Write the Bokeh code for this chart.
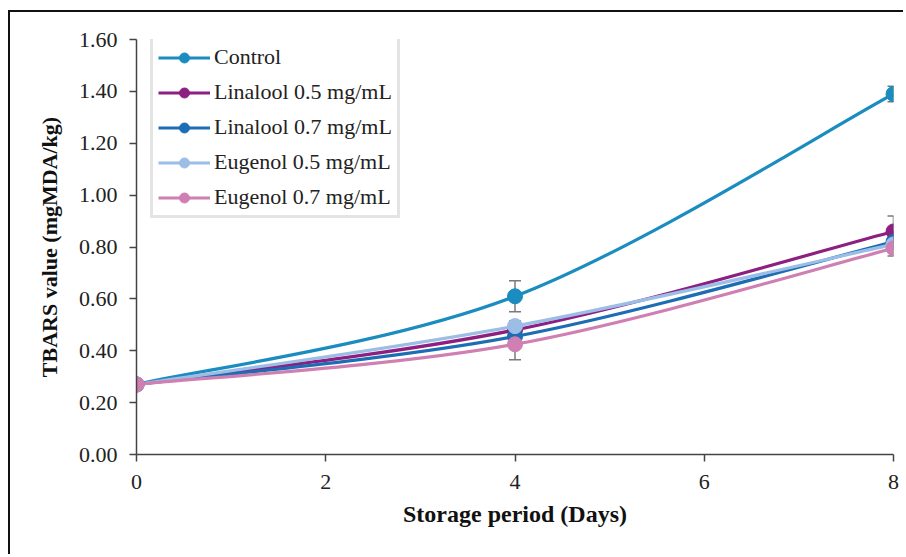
from bokeh.plotting import figure
from bokeh.models import Whisker, ColumnDataSource, NumeralTickFormatter, FixedTicker, Legend, LegendItem, TeeHead, Range1d
from bokeh.embed import file_html
from bokeh.resources import INLINE

days = [0, 4, 8]
series_names = ["Control", "Linalool 0.5 mg/mL", "Linalool 0.7 mg/mL", "Eugenol 0.5 mg/mL", "Eugenol 0.7 mg/mL"]
control = [0.27, 0.61, 1.39]
linalool_05 = [0.27, 0.48, 0.86]
linalool_07 = [0.27, 0.455, 0.82]
eugenol_05 = [0.27, 0.495, 0.81]
eugenol_07 = [0.27, 0.425, 0.795]
control_err = [0.0, 0.06, 0.03]
linalool_05_err = [0.0, 0.02, 0.06]
linalool_07_err = [0.0, 0.02, 0.02]
eugenol_05_err = [0.0, 0.02, 0.02]
eugenol_07_err = [0.0, 0.06, 0.03]
x_ticks = [0, 2, 4, 6, 8]
y_ticks = [0.0, 0.2, 0.4, 0.6, 0.8, 1.0, 1.2, 1.4, 1.6]

values = [control, linalool_05, linalool_07, eugenol_05, eugenol_07]
errors = [control_err, linalool_05_err, linalool_07_err, eugenol_05_err, eugenol_07_err]
colors = ["#1a8cc0", "#8c1f80", "#1c6db4", "#9bbde6", "#cf7fb1"]

FONT = "Liberation Serif"

p = figure(width=895, height=544, output_backend="svg", toolbar_location=None,
           x_range=Range1d(0, 8), y_range=Range1d(0, 1.6),
           min_border_left=126, min_border_right=12, min_border_top=27, min_border_bottom=102)
p.outline_line_color = None
p.xgrid.visible = False
p.ygrid.visible = False
p.styles = {"border-left": "2px solid #111", "border-top": "2px solid #111",
            "margin-left": "8px", "margin-top": "10px"}

for ax in (p.xaxis[0], p.yaxis[0]):
    ax.axis_line_color = "#444"
    ax.axis_line_width = 1.5
    ax.major_tick_line_color = "#444"
    ax.major_tick_line_width = 1.5
    ax.major_tick_out = 7
    ax.major_tick_in = 0
    ax.minor_tick_line_color = None
    ax.major_label_text_font = FONT
    ax.major_label_text_font_size = "22px"
    ax.major_label_text_color = "#222"
    ax.axis_label_text_font = FONT
    ax.axis_label_text_font_style = "bold"
    ax.axis_label_text_color = "#111"

p.xaxis.ticker = FixedTicker(ticks=x_ticks)
p.yaxis.ticker = FixedTicker(ticks=y_ticks)
p.yaxis.formatter = NumeralTickFormatter(format="0.00")
p.xaxis.axis_label = "Storage period (Days)"
p.yaxis.axis_label = "TBARS value (mgMDA/kg)"
p.xaxis.axis_label_text_font_size = "24px"
p.yaxis.axis_label_text_font_size = "22px"
p.xaxis.axis_label_standoff = 9
p.yaxis.axis_label_standoff = 14
p.xaxis.major_label_standoff = 13
p.yaxis.major_label_standoff = 12


def bezier_controls(xs, ys):
    n = len(xs)
    x0, y0, x1, y1, cx0, cy0, cx1, cy1 = [], [], [], [], [], [], [], []
    for i in range(n - 1):
        pm = max(i - 1, 0)
        pp = min(i + 2, n - 1)
        x0.append(xs[i]); y0.append(ys[i])
        x1.append(xs[i + 1]); y1.append(ys[i + 1])
        cx0.append(xs[i] + (xs[i + 1] - xs[pm]) / 6)
        cy0.append(ys[i] + (ys[i + 1] - ys[pm]) / 6)
        cx1.append(xs[i + 1] - (xs[pp] - xs[i]) / 6)
        cy1.append(ys[i + 1] - (ys[pp] - ys[i]) / 6)
    return dict(x0=x0, y0=y0, x1=x1, y1=y1, cx0=cx0, cy0=cy0, cx1=cx1, cy1=cy1)


items = []
for name, vals, errs, col in zip(series_names, values, errors, colors):
    lo = [v - e for v, e in zip(vals, errs)]
    hi = [v + e for v, e in zip(vals, errs)]
    src = ColumnDataSource(dict(x=days, y=vals, lo=lo, hi=hi))
    w = Whisker(base="x", lower="lo", upper="hi", source=src, line_color="#7a7a7a", line_width=1.5,
                upper_head=TeeHead(size=12, line_color="#7a7a7a", line_width=1.5),
                lower_head=TeeHead(size=12, line_color="#7a7a7a", line_width=1.5))
    p.add_layout(w)
    bz = p.bezier(source=ColumnDataSource(bezier_controls(days, vals)), x0="x0", y0="y0", x1="x1", y1="y1",
                  cx0="cx0", cy0="cy0", cx1="cx1", cy1="cy1", line_color=col, line_width=3.2)
    sc = p.scatter("x", "y", source=src, size=15, fill_color=col, line_color=col)
    items.append(LegendItem(label=name, renderers=[bz, sc]))

legend = Legend(items=items, location=(14, 236), margin=0, padding=5, spacing=9,
                border_line_color="#c9c9c9", border_line_width=3,
                label_text_font=FONT, label_text_font_size="22px", label_text_color="#222",
                glyph_width=52, glyph_height=25, label_standoff=4, label_height=25)
p.add_layout(legend, "center")

open("out.html", "w").write(file_html(p, INLINE))
